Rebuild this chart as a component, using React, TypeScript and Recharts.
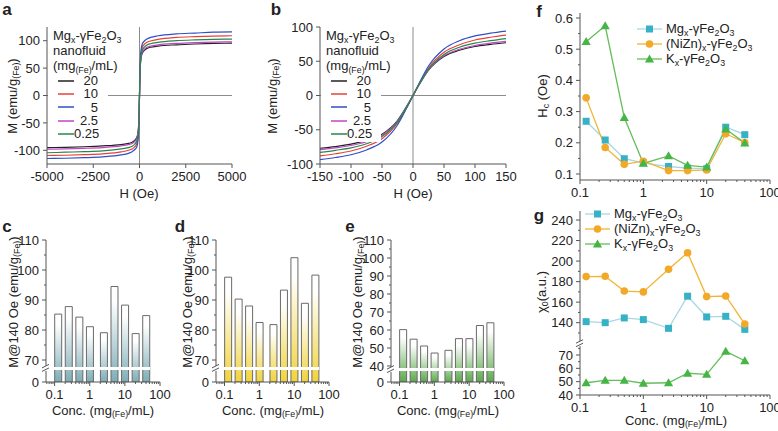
import React from "react";
import {
  LineChart,
  Line,
  BarChart,
  Bar,
  XAxis,
  YAxis,
  ReferenceLine,
  ReferenceDot,
  Legend,
} from "recharts";

const FONT = '"Liberation Sans", Arial, Helvetica, sans-serif';
const INK = "#222";
const AXIS = "#555";
const GUIDE = "#8c8c8c";

// ---- a, b: M-H curves of the Mg nanofluid at five concentrations
const LOOP_KEYS = ["c20", "c10", "c5", "c2_5", "c0_25"];
const LOOP_LABELS = ["20", "10", "5", "2.5", "0.25"];
const LOOP_COLORS = ["#222222", "#e8413c", "#2f4fc6", "#c445c4", "#23894a"];

const H_WIDE = [-5000, -4000, -3000, -2000, -1000, -600, -400, -250, -150, -100, -50, -25, 0, 25, 50, 100, 150, 250, 400, 600, 1000, 2000, 3000, 4000, 5000];
const M_WIDE_20 = [-95, -94.5, -93.5, -92, -89.5, -87.5, -85.5, -81.5, -76.5, -71, -56.5, -36.5, 0, 37, 57, 71.5, 77, 82, 86, 88, 90, 92.5, 94, 95, 95.5];
const M_WIDE_10 = [-109.5, -109, -108, -106.5, -103, -100, -97.5, -93.5, -88, -81, -63, -40, 0, 40, 63, 81, 88, 93, 97, 99.5, 102.5, 106, 107.5, 108.5, 109];
const M_WIDE_5 = [-115, -114.5, -113.5, -112, -108.5, -105.5, -102.5, -98.5, -94, -87, -68, -43, 0, 43, 68, 87, 94, 99, 103, 106, 109, 112.5, 114, 115.5, 116];
const M_WIDE_2_5 = [-98, -97.5, -96.5, -95, -92, -89.5, -87.5, -83.5, -78.5, -72.5, -57.5, -37, 0, 37.5, 58, 73, 79, 84, 88, 90, 92.5, 95, 96.5, 97.5, 98];
const M_WIDE_0_25 = [-104.5, -103.5, -102.5, -101, -97.5, -95, -92.5, -88.5, -83, -76.5, -60, -38.5, 0, 38.5, 60, 76.5, 83, 88, 92, 94.5, 97, 100, 101.5, 102.5, 103];

const H_NARROW = [-150, -125, -100, -75, -50, -25, -10, 0, 10, 25, 50, 75, 100, 125, 150];
const M_NARROW_20 = [-77, -74.5, -71, -65.5, -56.5, -36.5, -15.5, 0, 16, 37, 57, 66, 71.5, 74.5, 77];
const M_NARROW_10 = [-88, -85, -81, -74, -63, -40, -17, 0, 17, 40, 63, 74, 81, 85, 88];
const M_NARROW_5 = [-93.5, -90.5, -86.5, -79.5, -68, -43, -18, 0, 18, 43, 68, 80, 87, 91, 94];
const M_NARROW_2_5 = [-79, -76.5, -73, -67.5, -58, -37.5, -16, 0, 16, 37.5, 58, 67.5, 73, 76.5, 79];
const M_NARROW_0_25 = [-83, -80, -76.5, -70.5, -60, -38.5, -16.5, 0, 16.5, 38.5, 60, 70.5, 76.5, 80, 83];

const H_WIDE_TICKS = [-5000, -2500, 0, 2500, 5000];
const H_NARROW_TICKS = [-150, -100, -50, 0, 50, 100, 150];
const M_TICKS = [-100, -50, 0, 50, 100];

// ---- c-g: vs. concentration
const CONC = [0.125, 0.25, 0.5, 1, 2.5, 5, 10, 20, 40];
const M140_MG = [85.3, 87.8, 84.3, 81.1, 79.1, 94.5, 88.3, 78.8, 84.8];
const M140_NIZN = [97.6, 90.3, 88.0, 82.5, 81.8, 93.3, 104.1, 88.9, 98.3];
const M140_K = [60.2, 54.9, 51.1, 47.2, 48.7, 55.2, 55.2, 62.5, 64.0];

const HC_MG = [0.269, 0.209, 0.149, 0.136, 0.124, 0.119, 0.117, 0.25, 0.226];
const HC_NIZN = [0.344, 0.185, 0.131, 0.141, 0.111, 0.111, 0.113, 0.229, 0.201];
const HC_K = [0.524, 0.575, 0.281, 0.134, 0.158, 0.128, 0.122, 0.244, 0.199];

const CHI_MG = [141, 140, 144.6, 143, 134.5, 165.8, 145.6, 146.2, 133.5];
const CHI_NIZN = [184.9, 185.2, 170.8, 170, 192, 208.1, 165.4, 166, 138.7];
const CHI_K = [49.2, 51, 51, 48.8, 49.2, 56.3, 55.5, 72.7, 65.7];

const LOG_MAJOR = [0.1, 1, 10, 100];
const LOG_MINOR = [0.2, 0.3, 0.4, 0.5, 0.6, 0.7, 0.8, 0.9, 2, 3, 4, 5, 6, 7, 8, 9, 20, 30, 40, 50, 60, 70, 80, 90];
const LOG_MINOR_LOW = [0.06, 0.07, 0.08, 0.09];
const HC_MAJOR = [0.1, 0.2, 0.3, 0.4, 0.5, 0.6];
const HC_MINOR = [0.15, 0.25, 0.35, 0.45, 0.55];
const CHI_UP_MAJOR = [140, 160, 180, 200, 220, 240];
const CHI_UP_MINOR = [130, 150, 170, 190, 210, 230];
const CHI_LO_MAJOR = [40, 50, 60, 70];
const CHI_LO_MINOR = [45, 55, 65, 75];

const PAD = { l: 44, t: 6, r: 18, b: 40 };
type Rect = [number, number, number, number];

function place(r: Rect, hiddenX = false) {
  const [x0, y0, x1, y1] = r;
  return {
    wrap: { position: "absolute" as const, left: x0 - PAD.l, top: y0 - PAD.t },
    width: x1 - x0 + PAD.l + PAD.r,
    height: y1 - y0 + PAD.t + PAD.b,
    margin: { top: PAD.t, right: PAD.r, bottom: hiddenX ? PAD.b : 0, left: 0 },
  };
}

// major ticks get labels and longer marks, minor ones a short mark only
function axisTick(dir: "x" | "y", majors: number[], fmt: (v: number) => string = (v) => String(v)) {
  return (p: any) => {
    const v = p.payload.value;
    const major = majors.indexOf(v) >= 0;
    const len = major ? 4 : 2;
    if (dir === "y") {
      const ax = p.x + 6;
      return (
        <g>
          <line x1={ax} y1={p.y} x2={ax - len} y2={p.y} stroke={AXIS} />
          {major && (
            <text x={p.x - 1} y={p.y} dy="0.36em" textAnchor="end" fontSize={13} fill={INK} fontFamily={FONT}>
              {fmt(v)}
            </text>
          )}
        </g>
      );
    }
    const ay = p.y - 6;
    return (
      <g>
        <line x1={p.x} y1={ay} x2={p.x} y2={ay + len} stroke={AXIS} />
        {major && (
          <text x={p.x} y={p.y + 1} dy="0.75em" textAnchor="middle" fontSize={13} fill={INK} fontFamily={FONT}>
            {fmt(v)}
          </text>
        )}
      </g>
    );
  };
}

function frameAxes(top = true) {
  return [
    top ? (
      <XAxis key="ft" xAxisId="top" orientation="top" type="number" domain={[0, 1]} height={0} tick={false} tickLine={false} axisLine={{ stroke: AXIS }} />
    ) : null,
    <YAxis key="fr" yAxisId="right" orientation="right" type="number" domain={[0, 1]} width={0} tick={false} tickLine={false} axisLine={{ stroke: AXIS }} />,
  ];
}

const Sub = ({ children }: { children: React.ReactNode }) => (
  <sub style={{ fontSize: "0.68em", verticalAlign: "-0.3em", lineHeight: 0 }}>{children}</sub>
);

const FeSub = () => <Sub>(Fe)</Sub>;

function VTitle({ x, y, children }: { x: number; y: number; children: React.ReactNode }) {
  return (
    <div style={{ position: "absolute", left: x, top: y, transform: "translate(-50%, -50%) rotate(-90deg)", whiteSpace: "nowrap", fontSize: 13 }}>
      {children}
    </div>
  );
}

function HTitle({ x, y, children }: { x: number; y: number; children: React.ReactNode }) {
  return (
    <div style={{ position: "absolute", left: x, top: y, transform: "translate(-50%, -50%)", whiteSpace: "nowrap", fontSize: 13 }}>
      {children}
    </div>
  );
}

function PanelLetter({ x, y, t }: { x: number; y: number; t: string }) {
  return (
    <div style={{ position: "absolute", left: x, top: y, transform: "translate(-50%, -50%)", fontSize: 17, fontWeight: 700 }}>{t}</div>
  );
}

function LoopLegend() {
  return (
    <div style={{ background: "#fff", fontFamily: FONT, fontSize: 13, color: INK, width: 60, padding: "0 0 2px 5px", boxSizing: "border-box", whiteSpace: "nowrap" }}>
      <div style={{ lineHeight: "15px" }}>
        Mg<Sub>x</Sub>-γFe<Sub>2</Sub>O<Sub>3</Sub>
      </div>
      <div style={{ lineHeight: "15px" }}>nanofluid</div>
      <div style={{ lineHeight: "15px", marginBottom: 1 }}>
        (mg<FeSub />/mL)
      </div>
      {LOOP_LABELS.map((c, i) => (
        <div key={c} style={{ display: "flex", alignItems: "center", height: 13.3 }}>
          <svg width={21} height={8}>
            <line x1={5} y1={4} x2={21} y2={4} stroke={LOOP_COLORS[i]} strokeWidth={1.5} />
          </svg>
          <span style={{ width: 24, textAlign: "right", lineHeight: "13px" }}>{c}</span>
        </div>
      ))}
    </div>
  );
}

function LoopChart({ rect, h, m, xDomain, xTicks, yDomain, legendAt }: {
  rect: Rect; h: number[]; m: number[][]; xDomain: [number, number]; xTicks: number[]; yDomain: [number, number]; legendAt: [number, number];
}) {
  const p = place(rect);
  const data = h.map((hv, i) => {
    const row: Record<string, number> = { h: hv };
    LOOP_KEYS.forEach((k, s) => (row[k] = m[s][i]));
    return row;
  });
  return (
    <div style={p.wrap}>
      <LineChart width={p.width} height={p.height} margin={p.margin} data={data}>
        <XAxis dataKey="h" type="number" domain={xDomain} ticks={xTicks} interval={0} allowDataOverflow height={PAD.b} tickSize={4} tickMargin={2} tickLine={false} axisLine={{ stroke: AXIS }} tick={axisTick("x", xTicks)} />
        <YAxis type="number" domain={yDomain} ticks={M_TICKS} interval={0} allowDataOverflow width={PAD.l} tickSize={4} tickMargin={2} tickLine={false} axisLine={{ stroke: AXIS }} tick={axisTick("y", M_TICKS)} />
        {frameAxes()}
        <ReferenceLine x={0} stroke={GUIDE} />
        <ReferenceLine y={0} stroke={GUIDE} />
        {LOOP_KEYS.map((k, i) => (
          <Line key={k} dataKey={k} type="monotone" stroke={LOOP_COLORS[i]} strokeWidth={1.2} dot={false} isAnimationActive={false} />
        ))}
        <Legend
          layout="vertical"
          align="center"
          verticalAlign="middle"
          wrapperStyle={{ left: legendAt[0] - (rect[0] - PAD.l), top: legendAt[1] - (rect[1] - PAD.t), width: 60 }}
          content={() => <LoopLegend />}
        />
      </LineChart>
    </div>
  );
}

// ---- bar panels c, d, e (broken y axis)
const BAR_X_DOMAIN: [number, number] = [0.057, 100];
const BAR_BREAK_END = 52;

function breakMark(p: any) {
  const { cx, cy } = p;
  return (
    <g>
      <rect x={cx - 3} y={cy - 2.5} width={6} height={5} fill="#fff" />
      <line x1={cx - 4} y1={cy - 0.5} x2={cx + 3} y2={cy - 4} stroke={AXIS} />
      <line x1={cx - 4} y1={cy + 3} x2={cx + 3} y2={cy - 0.5} stroke={AXIS} />
    </g>
  );
}

function BarPanel({ rect, values, color, gid, yMin, brk, majors, minors }: {
  rect: Rect; values: number[]; color: string; gid: string; yMin: number; brk: number; majors: number[]; minors: number[];
}) {
  const p = place(rect);
  const data = CONC.map((c, i) => ({ c, v: values[i] }));
  const yTicks = [yMin, ...majors, ...minors];
  return (
    <div style={p.wrap}>
      <BarChart width={p.width} height={p.height} margin={p.margin} data={data}>
        <defs>
          <linearGradient id={gid} x1="0" y1="0" x2="0" y2="1">
            <stop offset="0%" stopColor="#ffffff" />
            <stop offset="15%" stopColor="#ffffff" />
            <stop offset="100%" stopColor={color} />
          </linearGradient>
        </defs>
        <XAxis dataKey="c" type="number" scale="log" domain={BAR_X_DOMAIN} ticks={[...LOG_MINOR_LOW, ...LOG_MAJOR, ...LOG_MINOR]} interval={0} allowDataOverflow height={PAD.b} tickSize={4} tickMargin={2} tickLine={false} axisLine={{ stroke: AXIS }} tick={axisTick("x", LOG_MAJOR)} />
        <YAxis type="number" domain={[yMin, 110]} ticks={yTicks} interval={0} allowDataOverflow width={PAD.l} tickSize={4} tickMargin={2} tickLine={false} axisLine={{ stroke: AXIS }} tick={axisTick("y", [yMin, ...majors], (v) => (v === yMin ? "0" : String(v)))} />
        {frameAxes()}
        <Bar dataKey="v" barSize={7} fill={`url(#${gid})`} stroke="#6a6a6a" strokeWidth={1} isAnimationActive={false} />
        <ReferenceLine segment={[{ x: BAR_X_DOMAIN[0], y: brk }, { x: BAR_BREAK_END, y: brk }]} stroke="#fff" strokeWidth={3} ifOverflow="visible" />
        <ReferenceDot x={BAR_X_DOMAIN[0]} y={brk} r={0} shape={breakMark} ifOverflow="visible" />
      </BarChart>
    </div>
  );
}

// ---- f, g: three doped ferrites
const SERIES_KEYS = ["mg", "nizn", "k"];
const SERIES_LINE = ["#a6d8e2", "#f2b431", "#66bd5a"];
const SERIES_MARK = ["#37b1c6", "#f2a929", "#45b545"];

const markers = [
  (fill: string) => (p: any) => <rect key={p.index} x={p.cx - 3.5} y={p.cy - 3.5} width={7} height={7} fill={fill} />,
  (fill: string) => (p: any) => <circle key={p.index} cx={p.cx} cy={p.cy} r={3.8} fill={fill} />,
  (fill: string) => (p: any) => (
    <path key={p.index} d={`M${p.cx},${p.cy - 4.6}L${p.cx + 4.6},${p.cy + 3.4}L${p.cx - 4.6},${p.cy + 3.4}Z`} fill={fill} />
  ),
];

const SERIES_LABELS = [
  <>Mg<Sub>x</Sub>-γFe<Sub>2</Sub>O<Sub>3</Sub></>,
  <>(NiZn)<Sub>x</Sub>-γFe<Sub>2</Sub>O<Sub>3</Sub></>,
  <>K<Sub>x</Sub>-γFe<Sub>2</Sub>O<Sub>3</Sub></>,
];

function SeriesLegend() {
  return (
    <div style={{ fontFamily: FONT, fontSize: 13, color: INK, whiteSpace: "nowrap" }}>
      {SERIES_KEYS.map((k, i) => (
        <div key={k} style={{ display: "flex", alignItems: "center", height: 15.3 }}>
          <svg width={25} height={10}>
            <line x1={0} y1={5} x2={25} y2={5} stroke={SERIES_LINE[i]} strokeWidth={1.3} />
            {markers[i](SERIES_MARK[i])({ cx: 12.5, cy: 5, index: 0 })}
          </svg>
          <span style={{ marginLeft: 4, lineHeight: "14px" }}>{SERIES_LABELS[i]}</span>
        </div>
      ))}
    </div>
  );
}

function seriesLines(keys: string[]) {
  return keys.map((k) => {
    const i = SERIES_KEYS.indexOf(k);
    return (
      <Line key={k} dataKey={k} stroke={SERIES_LINE[i]} strokeWidth={1.3} dot={markers[i](SERIES_MARK[i])} isAnimationActive={false} />
    );
  });
}

const F_RECT: Rect = [580, 13, 770, 180];
const G_UP_RECT: Rect = [580, 211, 770, 343];
const G_LO_RECT: Rect = [580, 343, 770, 395];

function HcChart() {
  const p = place(F_RECT);
  const data = CONC.map((c, i) => ({ c, mg: HC_MG[i], nizn: HC_NIZN[i], k: HC_K[i] }));
  return (
    <div style={p.wrap}>
      <LineChart width={p.width} height={p.height} margin={p.margin} data={data}>
        <XAxis dataKey="c" type="number" scale="log" domain={[0.1, 100]} ticks={[...LOG_MAJOR, ...LOG_MINOR]} interval={0} allowDataOverflow height={PAD.b} tickSize={4} tickMargin={2} tickLine={false} axisLine={{ stroke: AXIS }} tick={axisTick("x", LOG_MAJOR)} />
        <YAxis type="number" domain={[0.0808, 0.616]} ticks={[...HC_MAJOR, ...HC_MINOR]} interval={0} allowDataOverflow width={PAD.l} tickSize={4} tickMargin={2} tickLine={false} axisLine={{ stroke: AXIS }} tick={axisTick("y", HC_MAJOR, (v) => v.toFixed(1))} />
        {frameAxes()}
        {seriesLines(SERIES_KEYS)}
        <Legend layout="vertical" align="center" verticalAlign="middle" wrapperStyle={{ left: 637 - (F_RECT[0] - PAD.l), top: 21 - (F_RECT[1] - PAD.t), width: 130 }} content={() => <SeriesLegend />} />
      </LineChart>
    </div>
  );
}

function ChiChart() {
  const up = place(G_UP_RECT, true);
  const lo = place(G_LO_RECT);
  const data = CONC.map((c, i) => ({ c, mg: CHI_MG[i], nizn: CHI_NIZN[i], k: CHI_K[i] }));
  return (
    <>
      <div style={up.wrap}>
        <LineChart width={up.width} height={up.height} margin={up.margin} data={data}>
          <XAxis dataKey="c" type="number" scale="log" domain={[0.1, 100]} allowDataOverflow hide />
          <YAxis type="number" domain={[120.2, 248.8]} ticks={[...CHI_UP_MAJOR, ...CHI_UP_MINOR]} interval={0} allowDataOverflow width={PAD.l} tickSize={4} tickMargin={2} tickLine={false} axisLine={{ stroke: AXIS }} tick={axisTick("y", CHI_UP_MAJOR)} />
          {frameAxes()}
          {seriesLines(["mg", "nizn"])}
          <Legend layout="vertical" align="center" verticalAlign="middle" wrapperStyle={{ left: 585 - (G_UP_RECT[0] - PAD.l), top: 206 - (G_UP_RECT[1] - PAD.t), width: 130 }} content={() => <SeriesLegend />} />
        </LineChart>
      </div>
      <div style={lo.wrap}>
        <LineChart width={lo.width} height={lo.height} margin={lo.margin} data={data}>
          <XAxis dataKey="c" type="number" scale="log" domain={[0.1, 100]} ticks={[...LOG_MAJOR, ...LOG_MINOR]} interval={0} allowDataOverflow height={PAD.b} tickSize={4} tickMargin={2} tickLine={false} axisLine={{ stroke: AXIS }} tick={axisTick("x", LOG_MAJOR)} />
          <YAxis type="number" domain={[40, 79]} ticks={[...CHI_LO_MAJOR, ...CHI_LO_MINOR]} interval={0} allowDataOverflow width={PAD.l} tickSize={4} tickMargin={2} tickLine={false} axisLine={{ stroke: AXIS }} tick={axisTick("y", CHI_LO_MAJOR)} />
          {frameAxes(false)}
          {seriesLines(["k"])}
          <ReferenceDot x={0.1} y={78.5} r={0} shape={breakMark} ifOverflow="visible" />
        </LineChart>
      </div>
    </>
  );
}

export default function App() {
  return (
    <div style={{ position: "absolute", left: 0, top: 0, width: 778, height: 431, background: "#fff", fontFamily: FONT, color: INK, overflow: "hidden" }}>
      <LoopChart rect={[47, 27, 232, 164]} h={H_WIDE} m={[M_WIDE_20, M_WIDE_10, M_WIDE_5, M_WIDE_2_5, M_WIDE_0_25]} xDomain={[-5000, 5000]} xTicks={H_WIDE_TICKS} yDomain={[-125, 125]} legendAt={[48, 28]} />
      <LoopChart rect={[320, 27, 506, 164]} h={H_NARROW} m={[M_NARROW_20, M_NARROW_10, M_NARROW_5, M_NARROW_2_5, M_NARROW_0_25]} xDomain={[-150, 150]} xTicks={H_NARROW_TICKS} yDomain={[-100, 100]} legendAt={[321, 28]} />
      <BarPanel rect={[46, 240, 160, 382]} values={M140_MG} color="#7eadb6" gid="gc" yMin={62.67} brk={67.2} majors={[70, 80, 90, 100, 110]} minors={[75, 85, 95, 105]} />
      <BarPanel rect={[216, 240, 329, 382]} values={M140_NIZN} color="#f0d33a" gid="gd" yMin={62.67} brk={67.2} majors={[70, 80, 90, 100, 110]} minors={[75, 85, 95, 105]} />
      <BarPanel rect={[391, 240, 504, 382]} values={M140_K} color="#5ba94b" gid="ge" yMin={31.1} brk={38} majors={[40, 50, 60, 70, 80, 90, 100, 110]} minors={[45, 55, 65, 75, 85, 95, 105]} />
      <HcChart />
      <ChiChart />

      <PanelLetter x={7} y={10} t="a" />
      <PanelLetter x={276} y={10} t="b" />
      <PanelLetter x={7} y={227} t="c" />
      <PanelLetter x={180} y={227} t="d" />
      <PanelLetter x={350} y={227} t="e" />
      <PanelLetter x={539} y={12} t="f" />
      <PanelLetter x={539} y={216} t="g" />

      <VTitle x={12} y={96}>M (emu/g<FeSub />)</VTitle>
      <VTitle x={272} y={96}>M (emu/g<FeSub />)</VTitle>
      <HTitle x={139} y={193}>H (Oe)</HTitle>
      <HTitle x={413} y={193}>H (Oe)</HTitle>

      <VTitle x={13} y={302}>M@140 Oe (emu/g<FeSub />)</VTitle>
      <VTitle x={187} y={302}>M@140 Oe (emu/g<FeSub />)</VTitle>
      <VTitle x={357} y={302}>M@140 Oe (emu/g<FeSub />)</VTitle>
      <HTitle x={103} y={410}>Conc. (mg<FeSub />/mL)</HTitle>
      <HTitle x={273} y={410}>Conc. (mg<FeSub />/mL)</HTitle>
      <HTitle x={448} y={410}>Conc. (mg<FeSub />/mL)</HTitle>

      <VTitle x={542} y={96}>H<Sub>c</Sub> (Oe)</VTitle>
      <VTitle x={541} y={292}>χ<Sub>0</Sub>(a.u.)</VTitle>
      <HTitle x={676} y={420}>Conc. (mg<FeSub />/mL)</HTitle>
    </div>
  );
}
